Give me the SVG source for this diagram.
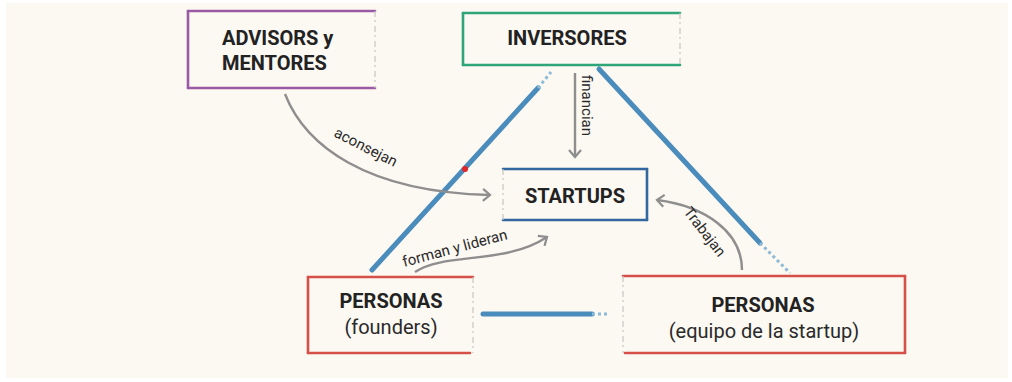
<svg xmlns="http://www.w3.org/2000/svg" width="1012" height="382" viewBox="0 0 1012 382">
  <style>
    .title { font-family: Roboto, "Liberation Sans", Arial, sans-serif; font-weight: bold; font-size: 20px; fill: #222; }
    .sub { font-family: Roboto, "Liberation Sans", Arial, sans-serif; font-size: 20px; fill: #2a2a2a; }
    .lbl { font-family: Roboto, "Liberation Sans", Arial, sans-serif; font-size: 15px; fill: #2a2a2a; }
    .edge { fill: none; stroke-width: 2.6; stroke-linecap: round; }
    .faint { fill: none; stroke: #c9c6c0; stroke-width: 1.2; stroke-dasharray: 6 3 2 4; }
    .purple { stroke: #9a5aa6; }
    .green { stroke: #2fa57a; }
    .blue { stroke: #33679f; }
    .red { stroke: #d6504a; }
    .tri { fill: none; stroke: #4a8cbc; stroke-width: 5; stroke-linecap: round; }
    .trifade { fill: none; stroke: #8dbad8; stroke-width: 3; stroke-dasharray: 3 3; }
    .arrow { fill: none; stroke: #8e8e8e; stroke-width: 2.4; marker-end: url(#head); }
  </style>
  <defs>
    <marker id="head" markerWidth="14" markerHeight="14" refX="9" refY="7" orient="auto" markerUnits="userSpaceOnUse">
      <path d="M2,1 L9,7 L2,13" fill="none" stroke="#8e8e8e" stroke-width="2.2" stroke-linejoin="miter"/>
    </marker>
  </defs>

  <rect x="0" y="0" width="1012" height="382" fill="#ffffff"/>
  <rect x="6" y="3" width="1002" height="375" fill="#fcf8f2"/>

  <g id="connectors">
    <!-- triangle -->
    <line class="tri" x1="372" y1="270" x2="538" y2="88"/>
    <line class="trifade" x1="538" y1="88" x2="551" y2="72"/>
    <line class="tri" x1="599" y1="69" x2="760" y2="243"/>
    <line class="trifade" x1="760" y1="243" x2="790" y2="273"/>
    <line class="tri" x1="483" y1="314" x2="592" y2="314"/>
    <line class="trifade" x1="592" y1="314" x2="608" y2="314"/>
    <circle cx="465" cy="169" r="3" fill="#e0262a"/>
    <!-- arrows -->
    <path class="arrow" d="M285,94 C305,145 365,192 490,195"/>
    <text class="lbl" transform="translate(333,136) rotate(27)">aconsejan</text>
    <path class="arrow" d="M575,73 L575,157"/>
    <text class="lbl" transform="translate(582,75) rotate(90)">financian</text>
    <path class="arrow" d="M742,270 C742,232 705,206 657,200"/>
    <text class="lbl" transform="translate(683,212) rotate(52)">Trabajan</text>
    <path class="arrow" d="M415,272 C445,252 505,265 547,237"/>
    <text class="lbl" transform="translate(404,267) rotate(-15)">forman y lideran</text>
  </g>

  <g id="advisors">
    <line class="edge purple" x1="188" y1="11" x2="375" y2="11"/>
    <line class="edge purple" x1="188" y1="11" x2="188" y2="88"/>
    <line class="edge purple" x1="188" y1="88" x2="375" y2="88"/>
    <line class="faint" x1="375" y1="11" x2="375" y2="88"/>
    <text class="title" x="222" y="45">ADVISORS y</text>
    <text class="title" x="222" y="70">MENTORES</text>
  </g>

  <g id="inversores">
    <line class="edge green" x1="463" y1="13" x2="680" y2="13"/>
    <line class="edge green" x1="463" y1="13" x2="463" y2="65"/>
    <line class="edge green" x1="463" y1="65" x2="680" y2="65"/>
    <line class="faint" x1="680" y1="13" x2="680" y2="65"/>
    <text class="title" x="567" y="45" text-anchor="middle">INVERSORES</text>
  </g>

  <g id="startups">
    <line class="edge blue" x1="503" y1="169" x2="647" y2="169"/>
    <line class="edge blue" x1="647" y1="169" x2="647" y2="220"/>
    <line class="edge blue" x1="503" y1="220" x2="647" y2="220"/>
    <line class="faint" x1="503" y1="169" x2="503" y2="220"/>
    <text class="title" x="575" y="203" text-anchor="middle">STARTUPS</text>
  </g>

  <g id="founders">
    <line class="edge red" x1="308" y1="277" x2="473" y2="277"/>
    <line class="edge red" x1="308" y1="277" x2="308" y2="353"/>
    <line class="edge red" x1="308" y1="353" x2="470" y2="353"/>
    <line class="faint" x1="473" y1="277" x2="473" y2="353"/>
    <text class="title" x="391" y="308" text-anchor="middle">PERSONAS</text>
    <text class="sub" x="391" y="334" text-anchor="middle">(founders)</text>
  </g>

  <g id="equipo">
    <line class="edge red" x1="623" y1="276" x2="905" y2="276"/>
    <line class="edge red" x1="905" y1="276" x2="905" y2="353"/>
    <line class="edge red" x1="625" y1="353" x2="905" y2="353"/>
    <line class="faint" x1="623" y1="276" x2="623" y2="353"/>
    <text class="title" x="763" y="312" text-anchor="middle">PERSONAS</text>
    <text class="sub" x="764" y="338" text-anchor="middle">(equipo de la startup)</text>
  </g>
</svg>
